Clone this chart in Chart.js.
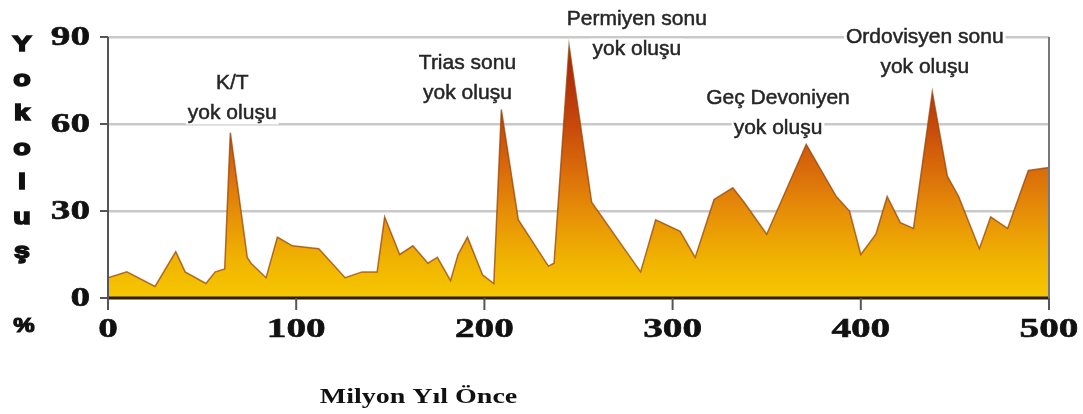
<!DOCTYPE html>
<html>
<head>
<meta charset="utf-8">
<script src="https://cdn.jsdelivr.net/npm/chart.js@4/dist/chart.umd.min.js"></script>
<style>
  body { margin: 0; background: #fff; }
  #chart { display: block; }
</style>
</head>
<body>
<canvas id="chart" width="1083" height="414"></canvas>
<script>
// Million years ago (x) and extinction percentage (y)
const years = [0, 10, 25, 36, 41, 52, 57, 62, 65, 74, 76, 84, 90, 98, 112, 126, 135, 143, 147, 155,
  162, 170, 175, 182, 186, 191, 199, 205, 209, 218, 234, 237, 245, 257, 283, 291, 304, 312, 322, 332,
  338, 350, 371, 387, 394, 400, 408, 414, 421, 428, 438, 446, 452, 463, 469, 478, 489, 500];
const extinction = [7, 9, 4, 16, 9, 5, 9, 10, 57, 14, 12, 7, 21, 18, 17, 7, 9, 9, 28, 15,
  18, 12, 14, 6, 15, 21, 8, 5, 65, 27, 11, 12, 87, 33, 9, 27, 23, 14, 34, 38,
  33, 22, 53, 35, 30, 15, 22, 35, 26, 24, 71, 42, 35, 17, 28, 24, 44, 45];

const xTicks = [0, 100, 200, 300, 400, 500];
const yTicks = [0, 30, 60, 90];

// Event labels (two lines each), anchored in data units
const eventLines1 = ["K/T", "Trias sonu", "Permiyen sonu", "Geç Devoniyen", "Ordovisyen sonu"];
const eventLines2 = ["yok oluşu", "yok oluşu", "yok oluşu", "yok oluşu", "yok oluşu"];
const eventX = [66, 191, 281, 356, 434];
const eventY = [74, 81, 96, 69, 90];

const yTitleLetters = ["Y", "o", "k", "o", "l", "u", "ş"];

// vertical fill gradient, yellow at the bottom to dark red at the top
function fillGradient(context) {
  const chart = context.chart;
  const area = chart.chartArea;
  if (!area) return "#f0b000";
  const g = chart.ctx.createLinearGradient(0, area.bottom, 0, area.top);
  g.addColorStop(0, "#f6c800");
  g.addColorStop(0.15, "#f0b200");
  g.addColorStop(0.33, "#e68e08");
  g.addColorStop(0.5, "#d96a0a");
  g.addColorStop(0.67, "#c6480a");
  g.addColorStop(0.85, "#b22e0a");
  g.addColorStop(1, "#a42006");
  return g;
}

// stretched text helper (the original labels are wide)
function wideText(ctx, text, x, y, font, sx, align, stroke) {
  ctx.save();
  ctx.font = font;
  ctx.textBaseline = "middle";
  ctx.textAlign = align;
  ctx.translate(x, y);
  ctx.scale(sx, 1);
  ctx.fillText(text, 0, 0);
  if (stroke) {
    ctx.lineWidth = stroke;
    ctx.strokeStyle = ctx.fillStyle;
    ctx.strokeText(text, 0, 0);
  }
  ctx.restore();
}

const decorations = {
  id: "decorations",
  afterDatasetsDraw(chart) {
    const ctx = chart.ctx;
    const xs = chart.scales.x;
    const ys = chart.scales.y;
    const a = chart.chartArea;

    // baseline
    ctx.save();
    ctx.strokeStyle = "#2b1d08";
    ctx.lineWidth = 3;
    ctx.beginPath();
    ctx.moveTo(a.left, ys.getPixelForValue(0));
    ctx.lineTo(a.right, ys.getPixelForValue(0));
    ctx.stroke();

    // left axis and right frame
    ctx.strokeStyle = "#555";
    ctx.lineWidth = 2;
    ctx.beginPath();
    ctx.moveTo(a.left, a.top);
    ctx.lineTo(a.left, a.bottom + 12);
    ctx.stroke();
    ctx.strokeStyle = "#777";
    ctx.beginPath();
    ctx.moveTo(a.right, a.top);
    ctx.lineTo(a.right, a.bottom);
    ctx.stroke();

    // tick marks
    ctx.strokeStyle = "#555";
    ctx.lineWidth = 2;
    yTicks.forEach((v) => {
      const py = ys.getPixelForValue(v);
      ctx.beginPath();
      ctx.moveTo(a.left - 8, py);
      ctx.lineTo(a.left, py);
      ctx.stroke();
    });
    xTicks.forEach((v) => {
      const px = xs.getPixelForValue(v);
      ctx.beginPath();
      ctx.moveTo(px, a.bottom);
      ctx.lineTo(px, a.bottom + 12);
      ctx.stroke();
    });

    // tick labels
    ctx.fillStyle = "#111";
    const serif = "bold 28px 'Liberation Serif', 'Times New Roman', serif";
    yTicks.forEach((v) => {
      wideText(ctx, String(v), a.left - 18, ys.getPixelForValue(v) + 1, serif, 1.4, "right", 0.6);
    });
    xTicks.forEach((v) => {
      wideText(ctx, String(v), xs.getPixelForValue(v), a.bottom + 32, serif, 1.4, "center", 0.6);
    });

    // axis titles
    wideText(ctx, "Milyon Yıl Önce", xs.getPixelForValue(165), a.bottom + 100,
      "bold 20px 'Liberation Serif', 'Times New Roman', serif", 1.4, "center");
    const sans = "bold 22px 'Liberation Sans', Arial, sans-serif";
    yTitleLetters.forEach((ch, i) => {
      wideText(ctx, ch, 22, a.top + 8 + i * 34.5, sans, 1.3, "center", 1.6);
    });
    wideText(ctx, "%", 24, a.bottom + 28, "bold 20px 'Liberation Sans', Arial, sans-serif", 1.2, "center", 1.2);

    // event labels with white backing over the grid
    ctx.font = "21px 'Liberation Sans', Arial, sans-serif";
    ctx.textAlign = "center";
    ctx.textBaseline = "middle";
    eventLines1.forEach((t, i) => {
      const px = xs.getPixelForValue(eventX[i]);
      const py = ys.getPixelForValue(eventY[i]);
      [t, eventLines2[i]].forEach((line, j) => {
        const w = ctx.measureText(line).width;
        const ly = py + j * 30;
        ctx.fillStyle = "#fff";
        ctx.fillRect(px - w / 2 - 2, ly - 11, w + 4, 22);
        ctx.fillStyle = "#262626";
        ctx.fillText(line, px, ly);
        ctx.lineWidth = 0.5;
        ctx.strokeStyle = "#262626";
        ctx.strokeText(line, px, ly);
      });
    });
    ctx.restore();
  },
};

const points = years.map((x, i) => ({ x: x, y: extinction[i] }));

new Chart(document.getElementById("chart"), {
  type: "line",
  data: {
    datasets: [
      {
        data: points,
        fill: "origin",
        backgroundColor: fillGradient,
        borderColor: "rgba(150, 70, 10, 0.75)",
        borderWidth: 1.5,
        pointRadius: 0,
        tension: 0,
      },
    ],
  },
  options: {
    responsive: false,
    animation: false,
    layout: { padding: { left: 108, right: 34, top: 37, bottom: 116 } },
    plugins: { legend: { display: false }, tooltip: { enabled: false } },
    scales: {
      x: {
        type: "linear",
        min: 0,
        max: 500,
        ticks: { display: false, stepSize: 100 },
        grid: { display: false, drawTicks: false },
        border: { display: false },
        afterFit: (s) => { s.height = 0; },
      },
      y: {
        min: 0,
        max: 90,
        ticks: { display: false, stepSize: 30 },
        grid: {
          drawTicks: false,
          color: (c) => (c.tick.value === 0 ? "rgba(0,0,0,0)" : "#c9c9c9"),
          lineWidth: 2.5,
        },
        border: { display: false },
        afterFit: (s) => { s.width = 0; },
      },
    },
  },
  plugins: [decorations],
});
</script>
</body>
</html>
